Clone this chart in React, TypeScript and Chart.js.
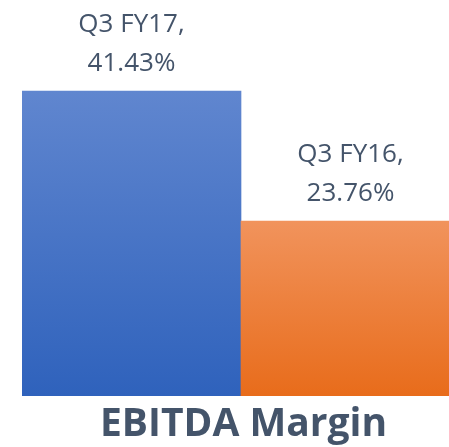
import React, { useEffect, useRef } from "react";
import { Chart, registerables } from "chart.js";

Chart.register(...registerables);

const categories = ["Q3 FY17", "Q3 FY16"];
const marginValues = [41.43, 23.76];
const valueLabels = ["41.43%", "23.76%"];
const chartTitle = "EBITDA Margin";

const gradientStops = [
  ["#6086cf", "#2f62bc"],
  ["#f1935c", "#e86c1b"],
];

const TEXT_COLOR = "#44546a";

const labelPlugin = {
  id: "labelsAndTitle",
  afterDatasetsDraw(chart: any) {
    const ctx = chart.ctx;
    const meta = chart.getDatasetMeta(0);
    ctx.save();
    ctx.fillStyle = TEXT_COLOR;
    ctx.textAlign = "center";
    ctx.textBaseline = "alphabetic";
    ctx.font = "26px 'Open Sans'";
    meta.data.forEach((bar: any, i: number) => {
      const x = bar.x;
      const top = bar.y;
      ctx.fillText(valueLabels[i], x, top - 20);
      ctx.fillText(categories[i] + ",", x, top - 59);
    });
    ctx.font = "bold 39px 'Open Sans'";
    ctx.fillText(chartTitle, 243.5, 436);
    ctx.restore();
  },
};

export default function App() {
  const ref = useRef<HTMLCanvasElement>(null);
  useEffect(() => {
    if (!ref.current) return;
    const chart = new Chart(ref.current, {
      type: "bar",
      data: {
        labels: categories,
        datasets: [
          {
            data: marginValues,
            borderWidth: 0,
            categoryPercentage: 1,
            barPercentage: 1,
            backgroundColor: (c: any) => {
              const ch = c.chart;
              const i = c.dataIndex;
              if (!ch.chartArea || c.raw === undefined) return gradientStops[i % 2][0];
              const ys = ch.scales.y;
              const top = ys.getPixelForValue(c.raw);
              const bottom = ys.getPixelForValue(0);
              const g = ch.ctx.createLinearGradient(0, top, 0, bottom);
              g.addColorStop(0, gradientStops[i][0]);
              g.addColorStop(1, gradientStops[i][1]);
              return g;
            },
          },
        ],
      },
      options: {
        animation: false,
        responsive: false,
        maintainAspectRatio: false,
        layout: { padding: { left: 22, right: 20, top: 28, bottom: 51 } },
        plugins: { legend: { display: false }, tooltip: { enabled: false }, title: { display: false } },
        scales: {
          x: { display: false, offset: true, grid: { display: false } },
          y: { display: false, min: 0, max: 50 },
        },
      },
      plugins: [labelPlugin],
    });
    return () => chart.destroy();
  }, []);
  return (
    <div style={{ position: "fixed", left: 0, top: 0, width: 449, height: 447, overflow: "hidden", background: "#fff" }}>
      <canvas ref={ref} width={480} height={447} style={{ display: "block", width: 480, height: 447 }} />
    </div>
  );
}
